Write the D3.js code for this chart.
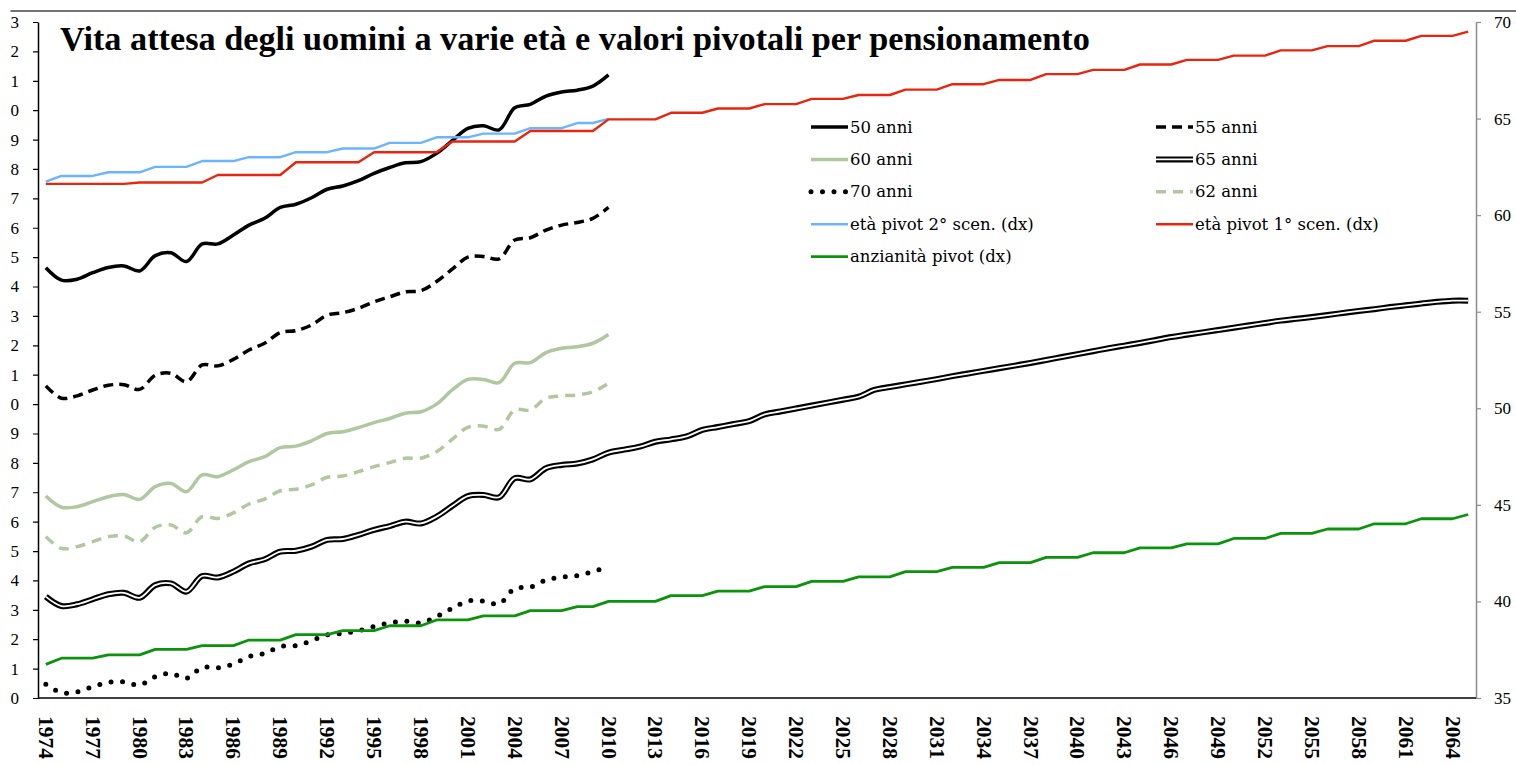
<!DOCTYPE html>
<html>
<head>
<meta charset="utf-8">
<script src="https://cdn.jsdelivr.net/npm/d3@7"></script>
<style>
	body { margin: 0; background: #fff; }
	svg { display: block; }
</style>
</head>
<body>
<div id="chart"></div>
<script>

// ----------------------------------
// DATA
// ----------------------------------

const years = d3.range(1974, 2066);   // 1974 ... 2065
const tickYears = years.filter(y => (y - 1974) % 3 === 0);

const leftTicks = d3.range(10, 34);   // speranza di vita (sx)
const rightTicks = [35, 40, 45, 50, 55, 60, 65, 70];   // età / anzianità (dx)

// speranza di vita, 1974-2010
const anni50 = [24.64, 24.22, 24.25, 24.47, 24.65, 24.70, 24.53, 25.05, 25.15, 24.85,
	25.45, 25.45, 25.75, 26.09, 26.32, 26.69, 26.80, 27.02, 27.31, 27.42, 27.60, 27.85,
	28.05, 28.21, 28.25, 28.53, 28.96, 29.38, 29.47, 29.33, 30.08, 30.20, 30.48, 30.62,
	30.68, 30.82, 31.20];

const anni55 = [20.62, 20.20, 20.28, 20.48, 20.64, 20.66, 20.50, 20.98, 21.05, 20.76,
	21.33, 21.30, 21.52, 21.84, 22.07, 22.43, 22.50, 22.69, 23.03, 23.11, 23.26, 23.48,
	23.65, 23.82, 23.86, 24.17, 24.59, 25.00, 25.02, 24.94, 25.58, 25.66, 25.92, 26.09,
	26.18, 26.32, 26.69];

const anni60 = [16.87, 16.49, 16.51, 16.68, 16.85, 16.92, 16.76, 17.19, 17.30, 17.02,
	17.59, 17.53, 17.76, 18.04, 18.21, 18.52, 18.57, 18.75, 19.00, 19.06, 19.20, 19.37,
	19.51, 19.69, 19.74, 20.00, 20.48, 20.84, 20.84, 20.73, 21.39, 21.41, 21.75, 21.90,
	21.95, 22.07, 22.37];

const anni62 = [15.49, 15.09, 15.15, 15.32, 15.49, 15.51, 15.32, 15.81, 15.89, 15.62,
	16.17, 16.11, 16.30, 16.60, 16.77, 17.05, 17.10, 17.25, 17.51, 17.55, 17.70, 17.87,
	18.01, 18.16, 18.16, 18.38, 18.80, 19.21, 19.25, 19.14, 19.80, 19.80, 20.20, 20.28,
	20.31, 20.42, 20.71];

// 65 anni goes on to 2065 (projection)
const anni65 = [13.45, 13.13, 13.19, 13.36, 13.53, 13.58, 13.41, 13.84, 13.90, 13.62,
	14.15, 14.10, 14.30, 14.58, 14.72, 14.98, 15.01, 15.15, 15.38, 15.41, 15.55, 15.72,
	15.85, 16.00, 15.94, 16.17, 16.53, 16.87, 16.91, 16.83, 17.48, 17.44, 17.82, 17.93,
	17.98, 18.12, 18.35,
	18.45, 18.55, 18.72, 18.80, 18.90, 19.12, 19.22, 19.32, 19.42, 19.65,
	19.75, 19.85, 19.95, 20.05, 20.15, 20.25, 20.48, 20.58, 20.67, 20.76,
	20.85, 20.95, 21.04, 21.13, 21.22, 21.31, 21.40, 21.50, 21.60, 21.70,
	21.80, 21.90, 21.99, 22.08, 22.18, 22.28, 22.36, 22.44, 22.52, 22.60,
	22.68, 22.76, 22.84, 22.90, 22.96, 23.03, 23.10, 23.17, 23.23, 23.30,
	23.36, 23.42, 23.48, 23.52, 23.52];

const anni70 = [10.47, 10.18, 10.21, 10.38, 10.53, 10.55, 10.44, 10.72, 10.84, 10.67,
	11.04, 11.03, 11.16, 11.41, 11.52, 11.75, 11.78, 11.95, 12.15, 12.20, 12.29, 12.43,
	12.56, 12.61, 12.56, 12.77, 13.05, 13.30, 13.30, 13.20, 13.73, 13.77, 14.01, 14.11,
	14.16, 14.30, 14.47];

// valori pivotali (dx)
const pivot2 = [61.74, 62.03, 62.03, 62.03, 62.22, 62.22, 62.22, 62.50, 62.50, 62.50,
	62.80, 62.80, 62.80, 63.00, 63.00, 63.00, 63.26, 63.26, 63.26, 63.45, 63.45, 63.45,
	63.74, 63.74, 63.74, 64.03, 64.03, 64.03, 64.22, 64.22, 64.22, 64.50, 64.50, 64.50,
	64.77, 64.77, 64.98];

const pivot1 = [61.62, 61.62, 61.62, 61.62, 61.62, 61.62, 61.69, 61.69, 61.69, 61.69,
	61.69, 62.08, 62.08, 62.08, 62.08, 62.08, 62.74, 62.74, 62.74, 62.74, 62.74, 63.26,
	63.26, 63.26, 63.26, 63.26, 63.81, 63.81, 63.81, 63.81, 63.81, 64.36, 64.36, 64.36,
	64.36, 64.36, 64.96, 64.96, 64.96, 64.96,
	65.30, 65.30, 65.30, 65.52, 65.52, 65.52, 65.75, 65.75, 65.75, 66.02, 66.02, 66.02,
	66.22, 66.22, 66.22, 66.50, 66.50, 66.50, 66.78, 66.78, 66.78, 67.00, 67.00, 67.00,
	67.30, 67.30, 67.30, 67.52, 67.52, 67.52, 67.80, 67.80, 67.80, 68.04, 68.04, 68.04,
	68.26, 68.26, 68.26, 68.53, 68.53, 68.53, 68.75, 68.75, 68.75, 69.03, 69.03, 69.03,
	69.28, 69.28, 69.28, 69.50];

const anzianita = [36.74, 37.06, 37.06, 37.06, 37.23, 37.23, 37.23, 37.52, 37.52, 37.52,
	37.71, 37.71, 37.71, 38.00, 38.00, 38.00, 38.28, 38.28, 38.28, 38.49, 38.49, 38.49,
	38.74, 38.74, 38.74, 39.04, 39.04, 39.04, 39.25, 39.25, 39.25, 39.52, 39.52, 39.52,
	39.73, 39.73, 40.00, 40.00, 40.00, 40.00,
	40.30, 40.30, 40.30, 40.53, 40.53, 40.53, 40.77, 40.77, 40.77, 41.04, 41.04, 41.04,
	41.27, 41.27, 41.27, 41.54, 41.54, 41.54, 41.76, 41.76, 41.76, 42.01, 42.01, 42.01,
	42.28, 42.28, 42.28, 42.52, 42.52, 42.52, 42.77, 42.77, 42.77, 42.98, 42.98, 42.98,
	43.26, 43.26, 43.26, 43.52, 43.52, 43.52, 43.75, 43.75, 43.75, 44.02, 44.02, 44.02,
	44.28, 44.28, 44.28, 44.50];

// ----------------------------------
// GET TO KNOW THE CONTAINER
// ----------------------------------

const width = 1516,
	height = 765,
	plot = {left: 38, right: 1476, top: 22, bottom: 698};

const svg = d3.select('#chart')
	.append('svg')
	.attr('width', width)
	.attr('height', height);

// the original picture is cut on the left, so the tens of the left labels are lost
svg.append('clipPath')
	.attr('id', 'crop')
	.append('rect')
	.attr('x', 10.5).attr('y', 0)
	.attr('width', width).attr('height', height);

const chart = svg.append('g').attr('clip-path', 'url(#crop)');

// ----------------------------------
// SCALES
// ----------------------------------

const xBand = d3.scaleBand()
	.domain(years)
	.range([plot.left, plot.right]);

const x = yr => xBand(yr) + xBand.bandwidth() / 2;

const yLeft = d3.scaleLinear()
	.domain([10, 33])
	.range([plot.bottom, plot.top]);

const yRight = d3.scaleLinear()
	.domain([35, 70])
	.range([plot.bottom, plot.top]);

// ----------------------------------
// FRAME & AXES
// ----------------------------------

chart.append('line')
	.attr('x1', 10).attr('x2', width)
	.attr('y1', 11).attr('y2', 11)
	.attr('stroke', '#444')
	.attr('stroke-width', 1.5);

const yAxisLeft = chart.append('g')
	.attr('transform', `translate(${plot.left},0)`)
	.call(d3.axisLeft(yLeft).tickValues(leftTicks).tickSize(5).tickSizeOuter(0).tickPadding(14));

yAxisLeft.select('.domain').attr('stroke', '#000').attr('stroke-width', 1.5);
yAxisLeft.selectAll('.tick line').attr('stroke', '#000').attr('stroke-width', 1.2);
yAxisLeft.selectAll('.tick text')
	.attr('font-family', 'Liberation Serif')
	.attr('font-size', 17)
	.attr('fill', '#000');

const yAxisRight = chart.append('g')
	.attr('transform', `translate(${plot.right},0)`)
	.call(d3.axisRight(yRight).tickValues(rightTicks).tickSize(5).tickSizeOuter(0).tickPadding(13));

yAxisRight.select('.domain').attr('stroke', '#8c8c8c').attr('stroke-width', 1.5);
yAxisRight.selectAll('.tick line').attr('stroke', '#8c8c8c').attr('stroke-width', 1.2);
yAxisRight.selectAll('.tick text')
	.attr('font-family', 'Liberation Serif')
	.attr('font-size', 17)
	.attr('fill', '#000');

// bottom axis: just the line and the vertical (rotated) year labels
chart.append('line')
	.attr('x1', plot.left).attr('x2', plot.right)
	.attr('y1', plot.bottom).attr('y2', plot.bottom)
	.attr('stroke', '#000')
	.attr('stroke-width', 1.5);

chart.append('g')
	.selectAll('text')
	.data(tickYears)
	.join('text')
	.attr('transform', d => `translate(${x(d)},${plot.bottom + 18}) rotate(90)`)
	.attr('dominant-baseline', 'central')
	.attr('font-family', 'Liberation Serif')
	.attr('font-weight', 'bold')
	.attr('font-size', 21.5)
	.text(d => d);

// ----------------------------------
// SERIES
// ----------------------------------

const sage = '#afc8a0';

const series = [
	{name: '50 anni', values: anni50, y: yLeft, color: '#000', width: 3.5, smooth: true},
	{name: '55 anni', values: anni55, y: yLeft, color: '#000', width: 3.5, dash: '10,6', smooth: true},
	{name: '60 anni', values: anni60, y: yLeft, color: sage, width: 3.5, smooth: true},
	{name: '65 anni', values: anni65, y: yLeft, color: '#000', width: 6, double: true, smooth: true},
	{name: '70 anni', values: anni70, y: yLeft, color: '#000', width: 5, dash: '0,11.5', cap: 'round', smooth: true},
	{name: '62 anni', values: anni62, y: yLeft, color: sage, width: 3.5, dash: '10,7', smooth: true},
	{name: 'età pivot 2° scen. (dx)', values: pivot2, y: yRight, color: '#6cb4ff', width: 2.4},
	{name: 'età pivot 1° scen. (dx)', values: pivot1, y: yRight, color: '#e8250e', width: 2.4},
	{name: 'anzianità pivot (dx)', values: anzianita, y: yRight, color: '#0b930b', width: 2.8}
];

function drawPath(sel, d, s) {
	const p = sel.append('path')
		.attr('d', d)
		.attr('fill', 'none')
		.attr('stroke', s.color)
		.attr('stroke-width', s.width)
		.attr('stroke-linecap', s.cap || 'butt')
		.attr('stroke-linejoin', 'round');
	if (s.dash) p.attr('stroke-dasharray', s.dash);
	if (s.double) {
		sel.append('path')
			.attr('d', d)
			.attr('fill', 'none')
			.attr('stroke', '#fff')
			.attr('stroke-width', 1.8)
			.attr('stroke-linejoin', 'round');
	}
}

const lines = chart.append('g').classed('lines', true);

series.forEach(s => {
	const line = d3.line()
		.x((v, i) => x(years[i]))
		.y(v => s.y(v))
		.curve(s.smooth ? d3.curveCatmullRom : d3.curveLinear);
	drawPath(lines, line(s.values), s);
});

// ----------------------------------
// LEGEND (two columns)
// ----------------------------------

const legend = chart.append('g').classed('legend', true);
const colX = [811, 1156],
	rowY0 = 127,
	rowStep = 32.4,
	sampleLen = 37;

series.forEach((s, idx) => {
	const lx = colX[idx % 2],
		ly = rowY0 + Math.floor(idx / 2) * rowStep;
	const g = legend.append('g');
	drawPath(g, `M${lx},${ly}H${lx + sampleLen}`, s);
	g.append('text')
		.attr('x', lx + sampleLen + 2)
		.attr('y', ly)
		.attr('dominant-baseline', 'central')
		.attr('font-family', 'DejaVu Serif')
		.attr('font-size', 16.5)
		.text(s.name);
});

// ----------------------------------
// TITLE
// ----------------------------------

const title = chart.append('text')
	.attr('x', 60)
	.attr('y', 50)
	.attr('font-family', 'Liberation Serif')
	.attr('font-weight', 'bold')
	.attr('font-size', 32)
	.text('Vita attesa degli uomini a varie età e valori pivotali per pensionamento');

// scale the title so that it spans the same width as in the original
const titleLen = title.node().getComputedTextLength();
title.attr('font-size', 32 * 1030 / titleLen);

</script>
</body>
</html>
